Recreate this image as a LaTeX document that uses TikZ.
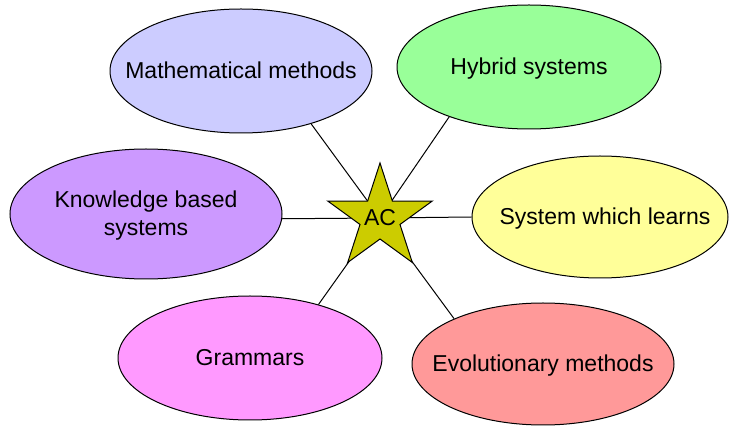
\documentclass[tikz,border=0pt]{standalone}
\usepackage{fontspec}
\setmainfont{Liberation Sans}
\usetikzlibrary{shapes.geometric}

\definecolor{mathblue}{RGB}{204,204,255}
\definecolor{hybridgreen}{RGB}{153,255,153}
\definecolor{knowviolet}{RGB}{204,153,255}
\definecolor{learnyellow}{RGB}{255,255,153}
\definecolor{grampink}{RGB}{255,153,255}
\definecolor{evolred}{RGB}{255,153,153}
\definecolor{acolive}{RGB}{204,204,0}

\newcommand{\bubtext}[1]{\makebox[0pt]{\raisebox{-4.1pt}[0pt][0pt]{\begin{tabular}{@{}c@{}}#1\end{tabular}}}}

\begin{document}
\begin{tikzpicture}[x=0.5pt, y=-0.5pt, font=\fontsize{11.5}{14}\selectfont]
    % Styles
    \tikzstyle{topic} = [ellipse, draw, line width=0.5pt, inner sep=0pt]
    \tikzstyle{spoke} = [line width=0.5pt]

    \useasboundingbox (0,0) rectangle (729,427);

    % Nodes
    \coordinate (hub) at (380,218);
    \node [topic, fill=mathblue, minimum width=131pt, minimum height=62pt] (math) at (241,71) {\bubtext{Mathematical methods}};
    \node [topic, fill=hybridgreen, minimum width=132pt, minimum height=62pt] (hybrid) at (529,67) {\bubtext{Hybrid systems}};
    \node [topic, fill=knowviolet, minimum width=136pt, minimum height=65pt] (know) at (146,214) {\bubtext{Knowledge based\\systems}};
    \node [topic, fill=learnyellow, minimum width=128pt, minimum height=61pt] (learns) at (600,217) {\bubtext{\hspace{5pt}System which learns}};
    \node [topic, fill=grampink, minimum width=132pt, minimum height=62pt] (gram) at (250,358) {\bubtext{Grammars}};
    \node [topic, fill=evolred, minimum width=131pt, minimum height=61pt] (evol) at (543,364) {\bubtext{Evolutionary methods}};

    % Spokes
    \draw [spoke] (hub) -- (math.-37);
    \draw [spoke] (hub) -- (hybrid.212);
    \draw [spoke] (hub) -- (know.-2);
    \draw [spoke] (hub) -- (learns.180);
    \draw [spoke] (hub) -- (gram.38);
    \draw [spoke] (hub) -- (evol.153);

    % Centre star
    \node [star, star points=5, star point ratio=2.618, draw, line width=0.5pt, fill=acolive,
        minimum size=55pt, inner sep=0pt] (ac) at (hub) {\bubtext{AC}};
\end{tikzpicture}
\end{document}
